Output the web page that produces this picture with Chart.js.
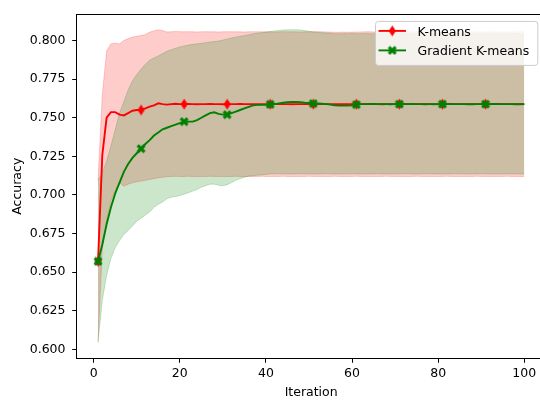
<!DOCTYPE html>
<html>
<head>
<meta charset="utf-8">
<script src="https://cdn.jsdelivr.net/npm/chart.js@4.4.1/dist/chart.umd.min.js"></script>
<style>
html,body{margin:0;padding:0;overflow:hidden;background:#fff;width:540px;height:400px}
#wrap{position:relative;width:560px;height:400px}
</style>
</head>
<body>
<div id="wrap"><canvas id="c" width="560" height="400"></canvas></div>
<script>
// ---------- data ----------
const iterations = Array.from({length: 100}, (_, i) => i + 1);
const seriesLabels = ['K-means', 'Gradient K-means'];
const xTicks = [0, 20, 40, 60, 80, 100];
const yTicks = [0.600, 0.625, 0.650, 0.675, 0.700, 0.725, 0.750, 0.775, 0.800];

const kmeansMean = [
0.657,0.726,0.750,0.7536,0.7536,0.752,0.7515,0.753,0.7545,0.755,
0.755,0.756,0.7572,0.758,0.7593,0.7588,0.7585,0.7588,0.759,0.7588,
0.7588,0.7589,0.7588,0.7587,0.7588,0.7588,0.7589,0.7588,0.7588,0.7587,
0.7588,0.7588,0.7588,0.7589,0.7588,0.7588,0.7588,0.7587,0.7588,0.7588,
0.7588,0.7589,0.7588,0.7588,0.7588,0.7587,0.7588,0.7588,0.7588,0.7588,
0.7588,0.7588,0.7589,0.7588,0.7588,0.7588,0.7588,0.7587,0.7588,0.7588,
0.7588,0.7588,0.7588,0.7589,0.7588,0.7588,0.7587,0.7588,0.7588,0.7588,
0.7588,0.7589,0.7588,0.7588,0.7588,0.7588,0.7587,0.7588,0.7588,0.7588,
0.7588,0.7588,0.7589,0.7588,0.7588,0.7588,0.7588,0.7587,0.7588,0.7588,
0.7588,0.7588,0.7588,0.7589,0.7588,0.7588,0.7588,0.7588,0.7587,0.7588];

const kmeansUpper = [
0.7094,0.765,0.7932,0.7978,0.7982,0.7978,0.800,0.8012,0.8022,0.8027,
0.8032,0.8038,0.8054,0.8062,0.8069,0.8064,0.8055,0.8056,0.8058,0.8057,
0.8056,0.8057,0.8056,0.8055,0.8056,0.8057,0.8056,0.8056,0.8055,0.8056,
0.8057,0.8056,0.8056,0.8056,0.8055,0.8056,0.8057,0.8056,0.8056,0.8056,
0.8056,0.8055,0.8056,0.8057,0.8056,0.8056,0.8056,0.8055,0.8056,0.8056,
0.8056,0.8057,0.8056,0.8055,0.8054,0.8053,0.8053,0.8054,0.8053,0.8054,
0.8055,0.8055,0.8056,0.8056,0.8055,0.8056,0.8056,0.8055,0.8056,0.8056,
0.8056,0.8055,0.8056,0.8056,0.8056,0.8055,0.8056,0.8056,0.8056,0.8055,
0.8056,0.8056,0.8055,0.8056,0.8056,0.8056,0.8055,0.8056,0.8056,0.8056,
0.8055,0.8056,0.8056,0.8055,0.8056,0.8056,0.8055,0.8056,0.8056,0.8056];

const kmeansLower = [
0.6046,0.665,0.684,0.696,0.703,0.7079,0.7057,0.707,0.7079,0.7085,
0.709,0.7095,0.710,0.7105,0.7112,0.7115,0.7118,0.712,0.7121,0.712,
0.712,0.7121,0.712,0.7119,0.712,0.712,0.7121,0.712,0.712,0.7119,
0.712,0.712,0.7121,0.712,0.712,0.712,0.7119,0.712,0.7121,0.712,
0.712,0.712,0.712,0.7121,0.712,0.7119,0.712,0.712,0.712,0.7121,
0.712,0.712,0.7119,0.712,0.712,0.7121,0.712,0.712,0.712,0.712,
0.7121,0.712,0.712,0.7119,0.712,0.712,0.712,0.7121,0.712,0.712,
0.712,0.7119,0.712,0.712,0.7121,0.712,0.712,0.712,0.7119,0.712,
0.712,0.7121,0.712,0.712,0.712,0.7119,0.712,0.712,0.7121,0.712,
0.712,0.712,0.7119,0.712,0.712,0.7121,0.712,0.712,0.712,0.712];

const gradMean = [
0.657,0.668,0.681,0.692,0.701,0.708,0.715,0.720,0.724,0.727,
0.730,0.733,0.7355,0.7385,0.7405,0.7425,0.7435,0.7445,0.7455,0.7465,
0.7475,0.7475,0.7475,0.7485,0.750,0.7515,0.753,0.7535,0.7525,0.752,
0.752,0.753,0.754,0.755,0.756,0.757,0.758,0.7583,0.7583,0.7583,
0.7586,0.7588,0.7593,0.7597,0.760,0.7602,0.7602,0.760,0.7597,0.7595,
0.7592,0.7592,0.759,0.7588,0.7585,0.758,0.7578,0.7578,0.7578,0.758,
0.7585,0.7588,0.7588,0.7588,0.7589,0.7588,0.7588,0.7588,0.7587,0.7588,
0.7588,0.7588,0.7588,0.7589,0.7588,0.7588,0.7588,0.7588,0.7587,0.7588,
0.7588,0.7589,0.7588,0.7588,0.7588,0.7588,0.7587,0.7588,0.7588,0.7588,
0.7588,0.7588,0.7589,0.7588,0.7588,0.7588,0.7588,0.7587,0.7588,0.7588];

const gradUpper = [
0.7094,0.7145,0.722,0.7317,0.7424,0.753,0.7605,0.768,0.774,0.778,
0.7815,0.7845,0.7873,0.7887,0.790,0.7915,0.793,0.794,0.795,0.7958,
0.7965,0.797,0.7975,0.7978,0.7982,0.7986,0.799,0.7993,0.7996,0.8003,
0.801,0.8016,0.8022,0.8027,0.8032,0.8037,0.8043,0.8047,0.805,0.8054,
0.8058,0.8062,0.8065,0.8068,0.8069,0.807,0.807,0.8068,0.8064,0.806,
0.8056,0.8053,0.805,0.8048,0.8046,0.8044,0.8043,0.8044,0.8044,0.8045,
0.8044,0.8044,0.8045,0.8044,0.8043,0.8044,0.8044,0.8045,0.8044,0.8044,
0.8044,0.8045,0.8044,0.8043,0.8044,0.8044,0.8044,0.8045,0.8044,0.8044,
0.8043,0.8044,0.8044,0.8045,0.8044,0.8044,0.8044,0.8043,0.8044,0.8044,
0.8045,0.8044,0.8044,0.8044,0.8043,0.8044,0.8044,0.8045,0.8044,0.8044];

const gradLower = [
0.6048,0.632,0.648,0.659,0.666,0.6705,0.6745,0.677,0.680,0.683,
0.685,0.687,0.689,0.692,0.694,0.6955,0.6975,0.6985,0.699,0.6997,
0.7005,0.7015,0.7025,0.7035,0.705,0.706,0.707,0.707,0.7063,0.7059,
0.7067,0.708,0.7095,0.7105,0.7115,0.7122,0.7125,0.7128,0.713,0.7133,
0.7136,0.7136,0.7137,0.7136,0.7135,0.7136,0.7136,0.7137,0.7136,0.7136,
0.7135,0.7136,0.7136,0.7137,0.7136,0.7136,0.7135,0.7136,0.7136,0.7137,
0.7136,0.7136,0.7135,0.7136,0.7136,0.7137,0.7136,0.7136,0.7135,0.7136,
0.7136,0.7137,0.7136,0.7136,0.7135,0.7136,0.7136,0.7137,0.7136,0.7136,
0.7135,0.7136,0.7136,0.7137,0.7136,0.7136,0.7135,0.7136,0.7136,0.7137,
0.7136,0.7136,0.7135,0.7136,0.7136,0.7137,0.7136,0.7136,0.7135,0.7136];

// ---------- styling ----------
const RED = '#ff0000', GREEN = '#008000';
const RED_BAND = 'rgba(255,0,0,0.2)', GREEN_BAND = 'rgba(0,128,0,0.2)';
const FONT = 'DejaVu Sans';
const FS = 12.5;

function makeDiamond(color) {
  const c = document.createElement('canvas');
  c.width = 9; c.height = 13;
  const g = c.getContext('2d');
  g.fillStyle = color;
  g.beginPath();
  g.moveTo(4.5, 1); g.lineTo(8, 6.5); g.lineTo(4.5, 12); g.lineTo(1, 6.5);
  g.closePath(); g.fill();
  return c;
}
function makeX(color) {
  const c = document.createElement('canvas');
  c.width = 10; c.height = 10;
  const g = c.getContext('2d');
  g.strokeStyle = color; g.lineWidth = 3.2; g.lineCap = 'butt';
  g.beginPath();
  g.moveTo(1.6, 1.6); g.lineTo(8.4, 8.4);
  g.moveTo(8.4, 1.6); g.lineTo(1.6, 8.4);
  g.stroke();
  return c;
}
const diamondImg = makeDiamond(RED);
const xImg = makeX(GREEN);

const pts = arr => iterations.map((x, i) => ({x: x, y: arr[i]}));
const markEvery = ctx => (ctx.dataIndex % 10 === 0 ? 5 : 0);

const frame = {
  id: 'frame',
  afterDraw(chart) {
    const {ctx, chartArea: a} = chart;
    ctx.save();
    ctx.strokeStyle = '#000'; ctx.lineWidth = 1;
    ctx.beginPath();
    const y = Math.round(a.top - 0.5) + 0.5;
    ctx.moveTo(Math.round(a.left) - 0.5, y); ctx.lineTo(a.right, y);
    ctx.stroke();
    ctx.restore();
  }
};

const legendBox = {
  id: 'legendBox',
  afterDraw(chart) {
    const {ctx, chartArea: a} = chart;
    const right = a.right - 7.3, top = a.top + 6.7;
    const w = 163.3, h = 45, left = right - w;
    ctx.save();
    ctx.beginPath();
    ctx.roundRect(left + 0.5, top + 0.5, w - 1, h - 1, 3);
    ctx.fillStyle = 'rgba(255,255,255,0.8)';
    ctx.fill();
    ctx.strokeStyle = '#cccccc'; ctx.lineWidth = 1;
    ctx.stroke();
    const entries = [
      {label: chart.data.datasets[1].label, color: RED, img: diamondImg, y: top + 10},
      {label: chart.data.datasets[0].label, color: GREEN, img: xImg, y: top + 29.5}
    ];
    entries.forEach(e => {
      ctx.strokeStyle = e.color; ctx.lineWidth = 1.9;
      ctx.beginPath(); ctx.moveTo(left + 3.5, e.y); ctx.lineTo(left + 31, e.y); ctx.stroke();
      ctx.drawImage(e.img, left + 17.3 - e.img.width / 2, e.y - e.img.height / 2);
      ctx.fillStyle = '#000';
      ctx.font = FS + 'px "' + FONT + '"';
      ctx.textBaseline = 'alphabetic';
      ctx.textAlign = 'left';
      ctx.fillText(e.label, left + 42.5, e.y + 4.8);
    });
    ctx.restore();
  }
};

Chart.defaults.font.family = FONT;
Chart.defaults.font.size = FS;
Chart.defaults.color = '#000';

new Chart(document.getElementById('c'), {
  type: 'line',
  data: {
    datasets: [
      {label: seriesLabels[1], data: pts(gradMean), borderColor: GREEN, backgroundColor: GREEN,
       borderWidth: 1.9, pointRadius: markEvery, pointStyle: xImg, fill: false, tension: 0},
      {label: seriesLabels[0], data: pts(kmeansMean), borderColor: RED, backgroundColor: RED,
       borderWidth: 1.9, pointRadius: markEvery, pointStyle: diamondImg, fill: false, tension: 0},
      {label: 'grad upper', data: pts(gradUpper), borderColor: GREEN_BAND, backgroundColor: GREEN_BAND,
       borderWidth: 1, pointRadius: 0, fill: '+1', tension: 0},
      {label: 'grad lower', data: pts(gradLower), borderColor: GREEN_BAND, borderWidth: 1,
       pointRadius: 0, fill: false, tension: 0},
      {label: 'kmeans upper', data: pts(kmeansUpper), borderColor: RED_BAND, backgroundColor: RED_BAND,
       borderWidth: 1, pointRadius: 0, fill: '+1', tension: 0},
      {label: 'kmeans lower', data: pts(kmeansLower), borderColor: RED_BAND, borderWidth: 1,
       pointRadius: 0, fill: false, tension: 0}
    ]
  },
  options: {
    responsive: false,
    animation: false,
    devicePixelRatio: 1,
    events: [],
    layout: {padding: {left: 0, top: 8.3, right: 14.4, bottom: 0}},
    plugins: {legend: {display: false}, tooltip: {enabled: false}},
    scales: {
      x: {
        type: 'linear', min: -3.95, max: 104.95,
        afterBuildTicks: s => { s.ticks = xTicks.map(v => ({value: v})); },
        afterFit: s => { s.height = 41.7; },
        grid: {display: true, drawOnChartArea: false, drawTicks: true, tickLength: 4.5, color: '#000', lineWidth: 1},
        border: {display: true, color: '#000', width: 1},
        ticks: {padding: 3.4, color: '#000', font: {size: FS}, maxRotation: 0, callback: v => String(v)},
        title: {display: true, text: 'Iteration', color: '#000', font: {size: FS, lineHeight: 1.1}, padding: {top: 0, bottom: 0}}
      },
      y: {
        type: 'linear', min: 0.5943, max: 0.817,
        afterBuildTicks: s => { s.ticks = yTicks.map(v => ({value: v})); },
        afterFit: s => { s.width = 76.7; },
        grid: {display: true, drawOnChartArea: false, drawTicks: true, tickLength: 4.5, color: '#000', lineWidth: 1},
        border: {display: true, color: '#000', width: 1},
        ticks: {padding: 6.7, color: '#000', font: {size: FS}, callback: v => Number(v).toFixed(3)},
        title: {display: true, text: 'Accuracy', color: '#000', font: {size: FS, lineHeight: 1.2}, padding: {top: 10.5, bottom: 0}}
      }
    }
  },
  plugins: [frame, legendBox]
});
</script>
</body>
</html>
